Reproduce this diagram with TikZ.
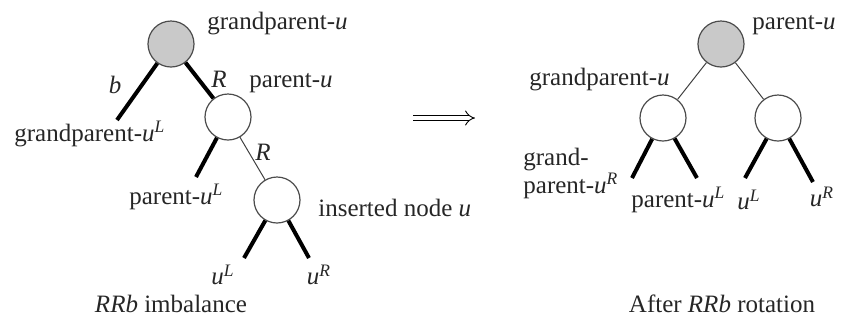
\documentclass[tikz,border=0pt]{standalone}
\usepackage{fontspec}
\setmainfont{Liberation Serif}
\usetikzlibrary{positioning,arrows.meta}
\definecolor{rootgray}{HTML}{C9C9C9}
\newcommand{\su}[1]{\textit{u}\textsuperscript{\textit{#1}}}

\begin{document}
\begin{tikzpicture}[x=0.5pt,y=-0.5pt,font=\fontsize{12.5}{14}\selectfont,
    nd/.style={circle,draw=black!70,line width=0.6pt,fill=white,minimum size=23pt,inner sep=0pt},
    top/.style={nd,fill=rootgray},
    sub/.style={line width=2pt,line cap=butt},
    link/.style={line width=0.5pt,draw=black!75},
    lbl/.style={inner sep=1pt,text=black!85}]
  \useasboundingbox (0,0) rectangle (843,329);
  % before
  \node[top] (gp) at (171,44) {};
  \node[nd] (p) at (228,117) {};
  \node[nd] (u) at (277,200) {};
  \coordinate (gpl) at (117,120);
  \coordinate (pl) at (196,177);
  \coordinate (ul) at (244,258);
  \coordinate (ur) at (309,258);
  \draw[sub] (gp) -- (gpl);
  \draw[sub] (gp) -- (p);
  \draw[sub] (p) -- (pl);
  \draw[link] (p) -- (u);
  \draw[sub] (u) -- (ul);
  \draw[sub] (u) -- (ur);
  \node[lbl,anchor=west] (gplab) at (205,24) {grandparent-\textit{u}};
  \node[lbl] (b) at (115,85) {\textit{b}};
  \node[lbl] (r1) at (219,79) {\textit{R}};
  \node[lbl,anchor=west] (plab) at (247,83) {parent-\textit{u}};
  \node[lbl,anchor=west] (gpllab) at (12,134) {grandparent-\su{L}};
  \node[lbl,anchor=west] (pllab) at (127,197) {parent-\su{L}};
  \node[lbl] (r2) at (263,152) {\textit{R}};
  \node[lbl,anchor=west] (ulab) at (316,208) {inserted node \textit{u}};
  \node[lbl] (ullab) at (223,275) {\su{L}};
  \node[lbl] (urlab) at (319,275) {\su{R}};
  \node[lbl] (cap1) at (171,304) {\textit{RRb} imbalance};
  % arrow
  \coordinate (a1) at (413,118);
  \coordinate (a2) at (475,118);
  \draw[double,double distance=2.2pt,line width=0.45pt,-{Implies}] (a1) -- (a2);
  % after
  \node[top] (np) at (721,44) {};
  \node[nd] (ngp) at (663,118) {};
  \node[nd] (nu) at (778,118) {};
  \coordinate (ngpr) at (632,178);
  \coordinate (npl) at (697,178);
  \coordinate (nul) at (745,178);
  \coordinate (nur) at (813,182);
  \draw[link] (np) -- (ngp);
  \draw[link] (np) -- (nu);
  \draw[sub] (ngp) -- (ngpr);
  \draw[sub] (ngp) -- (npl);
  \draw[sub] (nu) -- (nul);
  \draw[sub] (nu) -- (nur);
  \node[lbl,anchor=west] (nplab) at (750,25) {parent-\textit{u}};
  \node[lbl,anchor=west] (ngplab) at (527,80) {grandparent-\textit{u}};
  \node[lbl,anchor=west,align=left] (ngprlab) at (521,173) {grand-\\parent-\su{R}};
  \node[lbl,anchor=west] (npllab) at (629,200) {parent-\su{L}};
  \node[lbl] (nullab) at (749,200) {\su{L}};
  \node[lbl] (nurlab) at (822,197) {\su{R}};
  \node[lbl] (cap2) at (722,304) {After \textit{RRb} rotation};
\end{tikzpicture}
\end{document}
